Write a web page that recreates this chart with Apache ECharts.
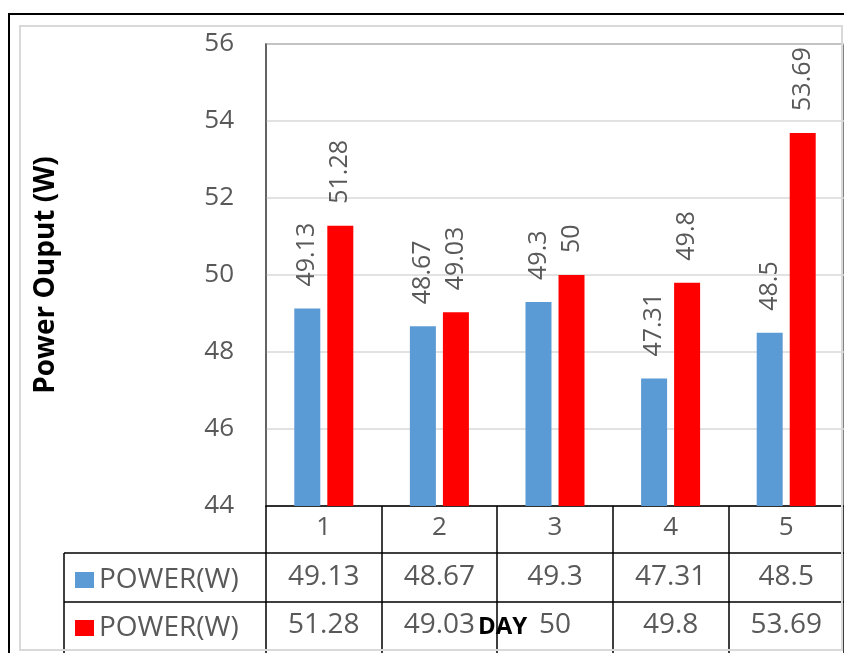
<!DOCTYPE html>
<html>
<head>
<meta charset="utf-8">
<script src="https://cdn.jsdelivr.net/npm/echarts@6/dist/echarts.min.js"></script>
<style>
  html, body { margin: 0; padding: 0; background: #fff; }
  #chart { width: 844px; height: 653px; }
</style>
</head>
<body>
<div id="chart"></div>
<script>
// Daily power output, two measured series
const days = ['1', '2', '3', '4', '5'];
const seriesLabels = ['POWER(W)', 'POWER(W)'];
const powerBlue = [49.13, 48.67, 49.3, 47.31, 48.5];
const powerRed = [51.28, 49.03, 50, 49.8, 53.69];
const yTicks = { min: 44, max: 56, step: 2 };
const yTitle = 'Power Ouput (W)';
const xTitle = 'DAY';

const FONT = "'Open Sans', 'Liberation Sans', sans-serif";
const GRAY = '#595959';
const LINE = '#000';

const chart = echarts.init(document.getElementById('chart'), null, { renderer: 'canvas' });

const gridLeft = 266, gridTop = 44, gridWidth = 580, gridBottom = 147;
const rowH1 = 47, rowH2 = 96;   // table row lines below the category axis

const barLabel = {
  show: true,
  position: 'top',
  rotate: 90,
  align: 'left',
  verticalAlign: 'middle',
  distance: 22,
  fontFamily: FONT,
  fontSize: 25,
  color: GRAY
};

const seriesIds = ['blue', 'red'];

chart.setOption({
  animation: false,
  backgroundColor: '#fff',
  grid: {
    left: gridLeft, top: gridTop, width: gridWidth, bottom: gridBottom,
    show: true, borderColor: GRAY, borderWidth: 1.5
  },
  legend: {
    orient: 'vertical',
    left: 75,
    top: 566,
    padding: 0,
    icon: 'rect',
    itemWidth: 19,
    itemHeight: 16,
    itemGap: 20,
    selectedMode: false,
    data: seriesIds,
    formatter: name => seriesLabels[seriesIds.indexOf(name)],
    textStyle: { fontFamily: FONT, fontSize: 28, color: GRAY, lineHeight: 28 }
  },
  xAxis: [
    {
      type: 'category',
      data: days,
      position: 'bottom',
      axisLine: { show: true, lineStyle: { color: LINE, width: 1.5 } },
      axisTick: { show: true, alignWithLabel: false, length: 147, lineStyle: { color: LINE, width: 1.5 } },
      axisLabel: { fontFamily: FONT, fontSize: 26, color: GRAY, margin: 9, interval: 0 },
      splitLine: { show: false }
    },
    {
      type: 'category',
      data: powerBlue.map(String),
      position: 'bottom',
      offset: rowH1,
      axisLine: { show: true, lineStyle: { color: LINE, width: 1.5 } },
      axisTick: { show: false },
      axisLabel: { fontFamily: FONT, fontSize: 28, color: GRAY, margin: 10, interval: 0 },
      splitLine: { show: false }
    },
    {
      type: 'category',
      data: powerRed.map(String),
      position: 'bottom',
      offset: rowH2,
      axisLine: { show: true, lineStyle: { color: LINE, width: 1.5 } },
      axisTick: { show: false },
      axisLabel: { fontFamily: FONT, fontSize: 28, color: GRAY, margin: 9, interval: 0 },
      splitLine: { show: false }
    }
  ],
  yAxis: {
    type: 'value',
    min: yTicks.min,
    max: yTicks.max,
    interval: yTicks.step,
    name: yTitle,
    nameLocation: 'middle',
    nameGap: 206,
    nameRotate: 90,
    nameTextStyle: { fontFamily: FONT, fontSize: 28, fontWeight: 'bold', color: '#000' },
    axisLine: { show: true, lineStyle: { color: GRAY, width: 1.5 } },
    axisTick: { show: false },
    axisLabel: { fontFamily: FONT, fontSize: 26, color: GRAY, margin: 32 },
    splitLine: { show: true, lineStyle: { color: '#d9d9d9', width: 1.5 } }
  },
  series: [
    {
      name: seriesIds[0],
      type: 'bar',
      xAxisIndex: 0,
      data: powerBlue,
      barWidth: 26,
      barGap: '27%',
      itemStyle: { color: '#5b9bd5' },
      label: barLabel
    },
    {
      name: seriesIds[1],
      type: 'bar',
      xAxisIndex: 0,
      data: powerRed,
      barWidth: 26,
      barGap: '27%',
      itemStyle: { color: '#ff0000' },
      label: barLabel
    }
  ],
  graphic: [
    // chart frame
    { type: 'rect', shape: { x: 9, y: 14, width: 900, height: 700 },
      style: { fill: 'none', stroke: '#000', lineWidth: 2 }, z: 100 },
    { type: 'rect', shape: { x: 20, y: 26, width: 822, height: 624 },
      style: { fill: 'none', stroke: '#d9d9d9', lineWidth: 2 }, z: 99 },
    // header column of the data table
    { type: 'line', shape: { x1: 64, y1: 553, x2: 266, y2: 553 },
      style: { stroke: LINE, lineWidth: 1.5 }, z: 50 },
    { type: 'line', shape: { x1: 64, y1: 602, x2: 266, y2: 602 },
      style: { stroke: LINE, lineWidth: 1.5 }, z: 50 },
    { type: 'line', shape: { x1: 64, y1: 553, x2: 64, y2: 660 },
      style: { stroke: LINE, lineWidth: 1.5 }, z: 50 },
    // category axis title
    { type: 'text', left: 478, top: 615, z: 60,
      style: { text: xTitle, fontFamily: FONT, fontSize: 24, fontWeight: 'bold', fill: '#000' } }
  ]
});
</script>
</body>
</html>
